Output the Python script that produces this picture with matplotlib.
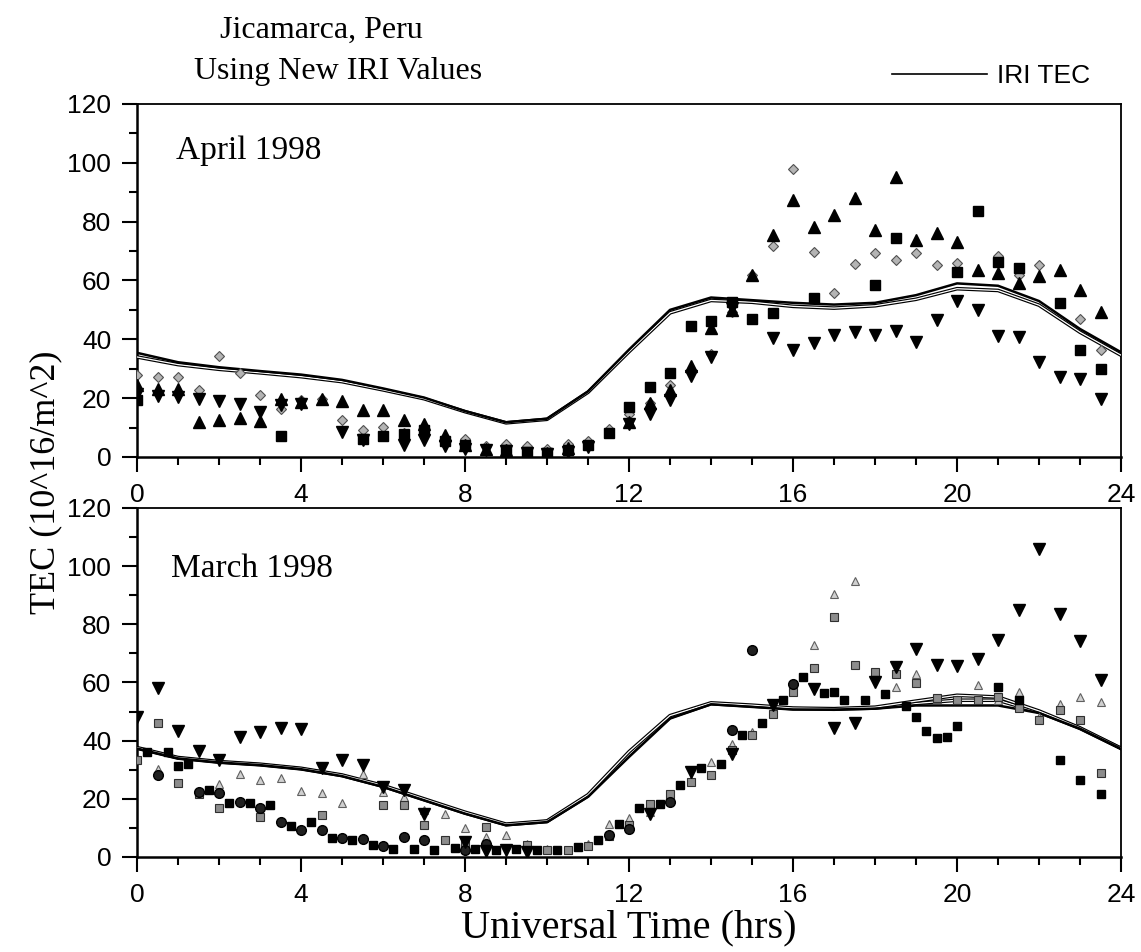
import numpy as np
import matplotlib
matplotlib.use("Agg")
import matplotlib.pyplot as plt
from matplotlib.ticker import MultipleLocator

# IRI TEC model curves (hourly)
iri_hrs = list(range(25))
# April 1998
apr_iri_a = [35.4, 32.2, 30.5, 29.2, 28.0, 26.2, 23.3, 20.2, 15.6, 11.8, 13.0, 22.3, 36.5,
             50.0, 54.2, 53.3, 52.4, 51.8, 52.4, 55.0, 59.0, 58.2, 53.0, 43.5, 35.6]
apr_iri_b = [34.0, 31.4, 29.8, 28.6, 27.3, 25.6, 22.8, 19.8, 15.4, 11.6, 12.8, 22.0, 35.8,
             49.0, 53.2, 52.6, 51.2, 50.6, 51.4, 53.6, 57.2, 56.6, 51.6, 42.4, 34.6]
# March 1998
mar_iri_a = [37.3, 33.9, 32.5, 31.6, 30.2, 27.8, 24.1, 19.5, 14.9, 10.9, 12.0, 20.7, 34.4,
             47.6, 52.5, 51.6, 50.7, 50.7, 51.0, 52.1, 52.1, 52.1, 49.5, 44.1, 37.2]
mar_iri_b = [37.6, 34.2, 32.8, 31.9, 30.5, 28.2, 24.6, 20.0, 15.4, 11.3, 12.4, 21.4, 36.2,
             48.6, 53.0, 52.2, 51.2, 51.0, 51.5, 53.6, 55.6, 55.0, 50.2, 44.4, 37.4]
mar_iri_c = [37.4, 34.0, 32.6, 31.7, 30.3, 28.0, 24.3, 19.7, 15.1, 11.1, 12.2, 21.0, 35.3,
             48.0, 52.7, 51.9, 51.0, 50.8, 51.2, 52.8, 53.9, 53.9, 49.8, 44.2, 37.3]

# April 1998 measured TEC
apr_up_t = [0, 0.5, 1, 1.5, 2, 2.5, 3, 3.5, 4, 4.5, 5, 5.5, 6, 6.5, 7, 7.5, 8, 8.5, 9, 9.5,
            10, 10.5, 12, 12.5, 13, 13.5, 14, 14.5, 15, 15.5, 16, 16.5, 17, 17.5, 18, 18.5,
            19, 19.5, 20, 20.5, 21, 21.5, 22, 22.5, 23, 23.5]
apr_up_v = [24.4, 23.2, 23.2, 11.9, 12.7, 13.4, 12.2, 19.8, 18.7, 19.8, 19.0, 15.9, 16.1, 12.5,
            11.1, 7.4, 4.0, 2.8, 2.5, 1.5, 1.5, 3.0, 11.9, 18.4, 22.9, 30.8, 43.7, 50.0, 62.0,
            75.4, 87.3, 78.2, 82.2, 87.9, 77.0, 95.3, 73.9, 76.0, 73.1, 63.5, 62.4, 59.0, 61.5,
            63.7, 56.9, 49.3]
apr_dn_t = [0, 0.5, 1, 1.5, 2, 2.5, 3, 3.5, 4, 5, 5.5, 6.5, 7, 7.5, 8, 8.5, 9, 9.5, 10, 10.5,
            11, 12, 12.5, 13, 13.5, 14, 14.5, 15.5, 16, 16.5, 17, 17.5, 18, 18.5, 19, 19.5,
            20, 20.5, 21, 21.5, 22, 22.5, 23, 23.5]
apr_dn_v = [21.5, 20.6, 20.4, 19.8, 19.0, 18.1, 15.3, 17.5, 18.0, 8.5, 5.7, 4.0, 5.7, 3.8, 2.8,
            2.2, 2.0, 1.2, 1.0, 1.8, 3.5, 11.3, 14.7, 19.3, 27.4, 34.0, 50.5, 40.6, 36.3, 38.6,
            41.4, 42.5, 41.4, 42.9, 39.1, 46.7, 53.1, 50.1, 41.0, 40.8, 32.3, 27.2, 26.6, 19.8]
apr_sq_t = [0, 3.5, 5.5, 6, 6.5, 7, 7.5, 8, 9, 9.5, 10, 10.5, 11, 11.5, 12, 12.5, 13, 13.5, 14,
            14.5, 15, 15.5, 16.5, 18, 18.5, 20, 20.5, 21, 21.5, 22.5, 23, 23.5]
apr_sq_v = [19.3, 7.0, 6.2, 7.0, 7.7, 9.3, 5.5, 4.0, 2.5, 1.8, 1.5, 2.5, 4.0, 8.0, 17.0, 23.8,
            28.6, 44.5, 46.3, 52.7, 47.0, 48.8, 54.2, 58.4, 74.3, 62.9, 83.7, 66.3, 64.1, 52.4,
            36.3, 30.0]
apr_gd_t = [0, 0.5, 1, 1.5, 2, 2.5, 3, 3.5, 4, 4.5, 5, 5.5, 6, 6.5, 7, 7.5, 8, 8.5, 9, 9.5, 10,
            10.5, 11, 11.5, 12, 12.5, 13, 13.5, 14, 14.5, 15, 15.5, 16, 16.5, 17, 17.5, 18,
            18.5, 19, 19.5, 20, 21, 21.5, 22, 23, 23.5]
apr_gd_v = [27.8, 27.2, 27.2, 22.7, 34.2, 28.6, 21.0, 16.4, 19.3, 19.8, 12.7, 9.1, 10.2, 8.0,
            10.0, 6.6, 6.2, 3.6, 4.5, 3.6, 2.8, 4.5, 5.4, 9.6, 14.7, 18.5, 24.4, 29.5, 35.0,
            49.3, 61.8, 71.7, 98.0, 69.7, 55.8, 65.5, 69.2, 66.9, 69.2, 65.2, 65.8, 68.3, 61.8,
            65.2, 47.0, 36.3]

# March 1998 measured TEC
mar_dn_t = [0, 0.5, 1, 1.5, 2, 2.5, 3, 3.5, 4, 4.5, 5, 5.5, 6, 6.5, 7, 8, 8.5, 9, 9.5, 12.5,
            13.5, 14.5, 15.5, 16.5, 17, 17.5, 18, 18.5, 19, 19.5, 20, 20.5, 21, 21.5, 22,
            22.5, 23, 23.5]
mar_dn_v = [48.2, 58.0, 43.4, 36.5, 33.5, 41.1, 43.1, 44.5, 43.9, 30.7, 33.3, 31.6, 24.1, 23.2,
            14.9, 5.2, 2.0, 2.3, 1.7, 14.9, 29.2, 35.3, 52.1, 57.9, 44.5, 46.2, 60.2, 65.3,
            71.4, 65.9, 65.6, 68.2, 74.7, 84.8, 105.8, 83.4, 74.3, 61.0]
mar_sq_t = [0.25, 0.75, 1.0, 1.25, 1.75, 2.25, 2.75, 3.25, 3.75, 4.25, 4.75, 5.25, 5.75, 6.25,
            6.75, 7.25, 7.75, 8.25, 8.75, 9.25, 9.75, 10.25, 10.75, 11.25, 11.75, 12.25,
            12.75, 13.25, 13.75, 14.25, 14.75, 15.25, 15.75, 16.25, 16.75, 17.0, 17.25, 17.75,
            18.25, 18.75, 19.0, 19.25, 19.5, 19.75, 20.0, 21.0, 21.5, 22.5, 23.0, 23.5]
mar_sq_v = [36.2, 36.2, 31.2, 32.1, 23.2, 18.4, 18.4, 18.0, 10.6, 12.0, 6.7, 6.0, 4.0, 2.9, 2.9,
            2.5, 3.2, 2.9, 2.5, 2.9, 2.5, 2.5, 3.4, 5.7, 11.5, 17.0, 18.3, 24.6, 30.7, 32.1,
            41.8, 46.0, 54.1, 61.9, 56.4, 56.7, 54.1, 53.9, 55.9, 51.8, 48.1, 43.3, 40.9, 41.3,
            44.9, 58.4, 54.1, 33.5, 26.4, 21.5]
mar_ci_t = [0.5, 1.5, 2, 2.5, 3, 3.5, 4, 4.5, 5, 5.5, 6, 6.5, 7, 8, 8.5, 11.5, 12, 13, 14.5, 15, 16]
mar_ci_v = [28.1, 22.4, 22.0, 18.9, 17.0, 12.0, 9.4, 9.4, 6.7, 6.3, 3.7, 6.9, 5.7, 2.3, 4.5,
            7.4, 9.7, 18.9, 43.8, 71.0, 59.6]
mar_gs_t = [0, 0.5, 1, 1.5, 2, 3, 4.5, 6, 6.5, 7, 7.5, 8, 8.5, 9.5, 10, 10.5, 11, 11.5, 12, 12.5,
            13, 13.5, 14, 14.5, 15, 15.5, 16, 16.5, 17, 17.5, 18, 18.5, 19, 19.5, 20, 20.5,
            21, 21.5, 22, 22.5, 23, 23.5]
mar_gs_v = [33.3, 45.9, 25.3, 21.8, 17.0, 13.8, 14.4, 18.0, 18.0, 10.9, 5.7, 4.6, 10.3, 4.0, 2.3,
            2.3, 3.7, 7.1, 11.0, 18.3, 21.8, 25.8, 28.1, 36.7, 41.8, 49.3, 56.7, 65.1, 82.5,
            65.9, 63.6, 63.0, 59.9, 54.7, 53.9, 53.9, 55.0, 51.3, 47.0, 50.7, 47.2, 28.9]
mar_gt_t = [0.5, 2, 2.5, 3, 3.5, 4, 4.5, 5, 5.5, 6, 6.5, 7, 7.5, 8, 8.5, 9, 9.5, 10, 10.5, 11,
            11.5, 12, 12.5, 13, 13.5, 14, 14.5, 15, 15.5, 16, 16.5, 17, 17.5, 18.5, 19, 19.5,
            20, 20.5, 21, 21.5, 22, 22.5, 23, 23.5]
mar_gt_v = [30.4, 25.0, 28.7, 26.6, 27.3, 22.7, 22.0, 18.4, 28.5, 22.4, 20.7, 16.3, 14.7, 9.8,
            6.9, 7.5, 4.6, 2.9, 2.5, 4.6, 11.2, 13.5, 15.5, 21.2, 26.6, 32.7, 39.0, 43.0, 49.9,
            58.4, 72.8, 90.3, 94.9, 58.4, 63.0, 54.4, 53.9, 59.0, 54.1, 56.7, 48.1, 52.7, 55.0,
            53.3]

serif = "Liberation Serif"
sans = "Liberation Sans"
plt.rcParams["font.family"] = sans

fig = plt.figure(figsize=(11.41, 9.52), dpi=100)
ax1 = fig.add_axes([0.1201, 0.5200, 0.8624, 0.3708])
ax2 = fig.add_axes([0.1201, 0.0998, 0.8624, 0.3666])


def iri_double(ax, y_main, y_outline):
    # solid black curve plus an outlined (hollow) twin curve
    ax.plot(iri_hrs, y_outline, color="black", lw=2.6, zorder=3)
    ax.plot(iri_hrs, y_outline, color="white", lw=0.9, zorder=3)
    ln, = ax.plot(iri_hrs, y_main, color="black", lw=1.8, zorder=4)
    return ln


def style_axis(ax):
    ax.set_xlim(0, 24)
    ax.set_ylim(0, 120)
    ax.xaxis.set_major_locator(MultipleLocator(4))
    ax.xaxis.set_minor_locator(MultipleLocator(1))
    ax.yaxis.set_major_locator(MultipleLocator(20))
    ax.yaxis.set_minor_locator(MultipleLocator(10))
    ax.tick_params(which="major", direction="out", length=10.5, width=1.5,
                   labelsize=19, pad=8)
    ax.tick_params(which="minor", direction="out", length=5.5, width=1.5)
    for side in ["left", "bottom"]:
        ax.spines[side].set_linewidth(1.8)
    for side in ["top", "right"]:
        ax.spines[side].set_linewidth(1.3)
    for lab in ax.get_xticklabels() + ax.get_yticklabels():
        lab.set_fontfamily(sans)


ms_big = 8.5
# top panel: April 1998
iri_line = iri_double(ax1, apr_iri_a, apr_iri_b)
ax1.plot(apr_gd_t, apr_gd_v, "D", ms=5.5, mfc="#b4b4b4", mec="#505050", mew=0.8, ls="none", zorder=5)
ax1.plot(apr_sq_t, apr_sq_v, "s", ms=6.5, color="black", ls="none", zorder=5)
ax1.plot(apr_dn_t, apr_dn_v, "v", ms=ms_big, color="black", ls="none", zorder=5)
ax1.plot(apr_up_t, apr_up_v, "^", ms=ms_big, color="black", ls="none", zorder=5)
style_axis(ax1)
ax1.text(0.04, 0.91, "April 1998", transform=ax1.transAxes, fontsize=24,
         family=serif, va="top", ha="left")

# bottom panel: March 1998
ax2.plot(iri_hrs, mar_iri_c, color="black", lw=2.6, zorder=3)
ax2.plot(iri_hrs, mar_iri_c, color="white", lw=0.9, zorder=3)
iri_double(ax2, mar_iri_a, mar_iri_b)
ax2.plot(mar_gt_t, mar_gt_v, "^", ms=6, mfc="#d0d0d0", mec="#606060", mew=0.8, ls="none", zorder=5)
ax2.plot(mar_gs_t, mar_gs_v, "s", ms=6, mfc="#8c8c8c", mec="#303030", mew=0.8, ls="none", zorder=5)
ax2.plot(mar_ci_t, mar_ci_v, "o", ms=7, mfc="#202020", mec="black", ls="none", zorder=5)
ax2.plot(mar_sq_t, mar_sq_v, "s", ms=6, color="black", ls="none", zorder=5)
ax2.plot(mar_dn_t, mar_dn_v, "v", ms=ms_big, color="black", ls="none", zorder=5)
style_axis(ax2)
ax2.text(0.035, 0.87, "March 1998", transform=ax2.transAxes, fontsize=24,
         family=serif, va="top", ha="left")

ax2.set_xlabel("Universal Time (hrs)", fontsize=29, family=serif, labelpad=2)
fig.text(0.040, 0.493, "TEC (10^16/m^2)", rotation=90, fontsize=26, family=serif,
         ha="center", va="center")

fig.text(0.282, 0.968, "Jicamarca, Peru", fontsize=23, family=serif, ha="center", va="center")
fig.text(0.296, 0.925, "Using New IRI Values", fontsize=23, family=serif, ha="center", va="center")

leg = ax1.legend([iri_line], ["IRI TEC"], loc="lower right", bbox_to_anchor=(0.985, 1.0),
                 frameon=False, handlelength=3.6, handletextpad=0.4, borderaxespad=0.2,
                 prop={"family": sans, "size": 19})
leg.get_lines()[0].set_linewidth(1.2)

fig.savefig("out.png", dpi=100)
